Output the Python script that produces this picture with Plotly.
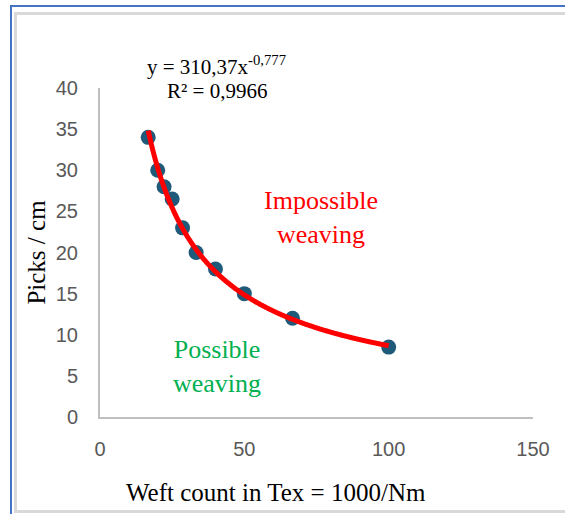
import plotly.graph_objects as go
import numpy as np

# Data (weft count in Tex, picks/cm)
tex = [16.7, 20.0, 22.2, 25.0, 28.6, 33.3, 40.0, 50.0, 66.7, 100.0]
picks = [34.0, 30.0, 28.0, 26.5, 23.0, 20.0, 18.0, 15.0, 12.0, 8.5]

# Power trendline coefficients shown on chart
coef_a = 310.37
coef_b = -0.777

x_title = "Weft count in Tex = 1000/Nm"
y_title = "Picks / cm"
eq_text = "y = 310,37x<sup>-0,777</sup>"
r2_text = "R² = 0,9966"

W, H = 565, 514
ML, MR, MT, MB = 100, 32, 88, 97
PW, PH = W - ML - MR, H - MT - MB

def px(x):
    return (x - ML) / PW

def py(y):
    return (H - MB - y) / PH

trend_x = np.linspace(min(tex), max(tex), 300)
trend_y = coef_a * trend_x ** coef_b

serif = "Liberation Serif, Times New Roman, serif"
sans = "Liberation Sans, Arial, sans-serif"

fig = go.Figure()
fig.add_trace(go.Scatter(x=tex, y=picks, mode="markers",
                         marker=dict(size=15, color="#1F5A7A"),
                         showlegend=False, hoverinfo="skip"))
fig.add_trace(go.Scatter(x=trend_x, y=trend_y, mode="lines",
                         line=dict(color="#FF0000", width=5, shape="spline"),
                         showlegend=False, hoverinfo="skip"))

fig.update_layout(
    width=W, height=H,
    margin=dict(l=ML, r=MR, t=MT, b=MB),
    paper_bgcolor="white", plot_bgcolor="white",
    showlegend=False,
    xaxis=dict(range=[0, 150], tickvals=[0, 50, 100, 150], showgrid=False,
               zeroline=False, showline=True, linecolor="#BFBFBF", linewidth=2,
               ticks="", ticklabelstandoff=13,
               tickfont=dict(family=sans, size=20, color="#595959")),
    yaxis=dict(range=[0, 40], tickvals=[0, 5, 10, 15, 20, 25, 30, 35, 40], showgrid=False,
               zeroline=False, showline=True, linecolor="#BFBFBF", linewidth=2,
               ticks="", ticklabelstandoff=16,
               tickfont=dict(family=sans, size=20, color="#595959"),
               title=dict(text=y_title, font=dict(family=serif, size=25, color="black"),
                          standoff=3)),
)

# X-axis title (offset left of plot centre, as in the reference)
fig.add_annotation(x=px(276), y=py(492), xref="paper", yref="paper", text=x_title,
                   showarrow=False, xanchor="center", yanchor="middle",
                   font=dict(family=serif, size=25, color="black"))

fig.add_annotation(x=px(216), y=py(66), xref="paper", yref="paper", text=eq_text,
                   showarrow=False, xanchor="center", yanchor="middle",
                   font=dict(family=serif, size=21, color="black"))
fig.add_annotation(x=px(217), y=py(91), xref="paper", yref="paper", text=r2_text,
                   showarrow=False, xanchor="center", yanchor="middle",
                   font=dict(family=serif, size=21, color="black"))
fig.add_annotation(x=px(321), y=py(217), xref="paper", yref="paper", text="Impossible<br>weaving",
                   showarrow=False, align="center", xanchor="center", yanchor="middle",
                   font=dict(family=serif, size=26, color="#FF0000"))
fig.add_annotation(x=px(217), y=py(366), xref="paper", yref="paper", text="Possible<br>weaving",
                   showarrow=False, align="center", xanchor="center", yanchor="middle",
                   font=dict(family=serif, size=26, color="#00B050"))

# Frame lines (blue outer, gray inner)
blue = dict(color="#4472C4", width=2)
gray = dict(color="#D9D9D9", width=3)
fig.add_shape(type="line", xref="paper", yref="paper", x0=px(11), x1=px(11), y0=py(5), y1=py(514), line=blue)
fig.add_shape(type="line", xref="paper", yref="paper", x0=px(10), x1=px(566), y0=py(6), y1=py(6), line=blue)
fig.add_shape(type="line", xref="paper", yref="paper", x0=px(15.5), x1=px(15.5), y0=py(12), y1=py(513), line=gray)
fig.add_shape(type="line", xref="paper", yref="paper", x0=px(14), x1=px(566), y0=py(13.5), y1=py(13.5), line=gray)
fig.add_shape(type="line", xref="paper", yref="paper", x0=px(14), x1=px(566), y0=py(511.5), y1=py(511.5), line=gray)

fig.write_html("out.html")
